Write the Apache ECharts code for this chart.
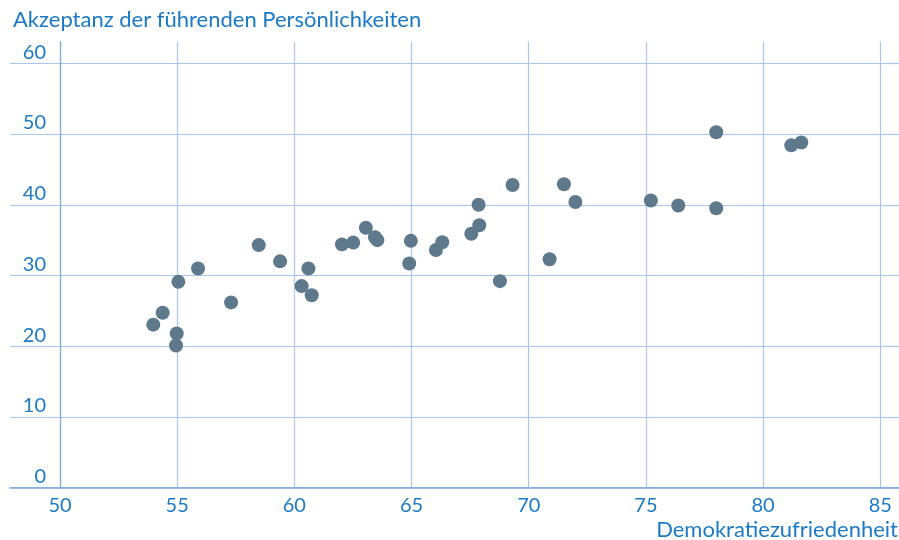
<!DOCTYPE html>
<html>
<head>
<meta charset="utf-8">
<script src="https://cdn.jsdelivr.net/npm/echarts@6/dist/echarts.min.js"></script>
<style>html,body{margin:0;padding:0;background:#fff}#c{width:899px;height:540px}</style>
</head>
<body>
<div id="c"></div>
<script>
const titleText = 'Akzeptanz der führenden Persönlichkeiten';
const xName = 'Demokratiezufriedenheit';
const demokratie = [53.98, 54.38, 54.98, 54.95, 55.05, 55.89, 57.30, 58.48, 59.39, 60.31, 60.60, 60.74, 62.03, 62.51, 63.05, 63.44, 63.54, 64.97, 64.90, 66.04, 66.31, 67.55, 67.89, 67.86, 68.77, 69.31, 70.89, 71.50, 71.99, 75.21, 76.38, 78.0, 78.0, 81.20, 81.63];
const akzeptanz = [23.05, 24.74, 21.8, 20.1, 29.1, 31.0, 26.2, 34.3, 32.0, 28.5, 31.0, 27.2, 34.4, 34.65, 36.76, 35.4, 35.0, 34.9, 31.7, 33.6, 34.7, 35.9, 37.1, 40.0, 29.2, 42.8, 32.3, 42.9, 40.4, 40.6, 39.9, 39.5, 50.25, 48.4, 48.8];
const xTicks = [50, 85, 5];
const yTicks = [0, 60, 10];

const FONT = 'Lato';
const TXT = '#1b7ac5';
const GRIDC = '#aac6ea';
const AXC = '#79a9dc';

const points = demokratie.map((d, i) => [d, akzeptanz[i]]);

const chart = echarts.init(document.getElementById('c'), null, {renderer: 'canvas'});
const hiddenVal = (gi, extra) => Object.assign({
  type: 'value', gridIndex: gi, min: 0, max: 1,
  axisLabel: {show: false}, axisTick: {show: false},
  splitLine: {show: false}, axisLine: {show: false}
}, extra || {});

chart.setOption({
  animation: false,
  textStyle: {fontFamily: FONT},
  title: [
    {text: titleText, left: 13, top: 9, padding: 0, textStyle: {color: TXT, fontSize: 22, fontWeight: 'normal', fontFamily: FONT}},
    {text: xName, right: 1, top: 519, padding: 0, textStyle: {color: TXT, fontSize: 22, fontWeight: 'normal', fontFamily: FONT}}
  ],
  grid: [
    {left: 60, right: 18.7, top: 63.3, height: 424.4},
    {left: 10, width: 50, top: 63.3, height: 424.4},
    {left: 880.3, width: 18.7, top: 63.3, height: 424.4},
    {left: 60, right: 18.7, top: 41.5, height: 21.8}
  ],
  xAxis: [
    {type: 'value', gridIndex: 0, min: xTicks[0], max: xTicks[1], interval: xTicks[2],
     axisLine: {show: true, onZero: false, lineStyle: {color: AXC, width: 1.5}},
     axisTick: {show: false},
     axisLabel: {color: TXT, fontSize: 20, margin: 8, fontFamily: FONT},
     splitLine: {show: true, lineStyle: {color: GRIDC, width: 1.2}}},
    hiddenVal(1, {axisLine: {show: true, onZero: false, lineStyle: {color: AXC, width: 1.5}}}),
    hiddenVal(2, {axisLine: {show: true, onZero: false, lineStyle: {color: AXC, width: 1.5}}}),
    {type: 'value', gridIndex: 3, min: xTicks[0], max: xTicks[1], interval: xTicks[2],
     axisLine: {show: false}, axisTick: {show: false}, axisLabel: {show: false},
     splitLine: {show: true, lineStyle: {color: GRIDC, width: 1.2}}}
  ],
  yAxis: [
    {type: 'value', gridIndex: 0, min: yTicks[0], max: yTicks[1], interval: yTicks[2],
     axisLine: {show: true, onZero: false, lineStyle: {color: AXC, width: 1.2}},
     axisTick: {show: false},
     axisLabel: {color: TXT, fontSize: 20, margin: 14, verticalAlign: 'bottom', lineHeight: 22, fontFamily: FONT},
     splitLine: {show: true, lineStyle: {color: GRIDC, width: 1.2}}},
    {type: 'value', gridIndex: 1, min: yTicks[0], max: yTicks[1], interval: yTicks[2],
     axisLine: {show: false}, axisTick: {show: false}, axisLabel: {show: false},
     splitLine: {show: true, lineStyle: {color: GRIDC, width: 1.2}}},
    {type: 'value', gridIndex: 2, min: yTicks[0], max: yTicks[1], interval: yTicks[2],
     axisLine: {show: false}, axisTick: {show: false}, axisLabel: {show: false},
     splitLine: {show: true, lineStyle: {color: GRIDC, width: 1.2}}},
    hiddenVal(3, {axisLine: {show: true, onZero: false, lineStyle: {color: AXC, width: 1.2}}})
  ],
  series: [{
    type: 'scatter', xAxisIndex: 0, yAxisIndex: 0,
    data: points, symbolSize: 14,
    itemStyle: {color: '#5f798c', opacity: 1},
    emphasis: {disabled: true}
  }]
});
</script>
</body>
</html>
